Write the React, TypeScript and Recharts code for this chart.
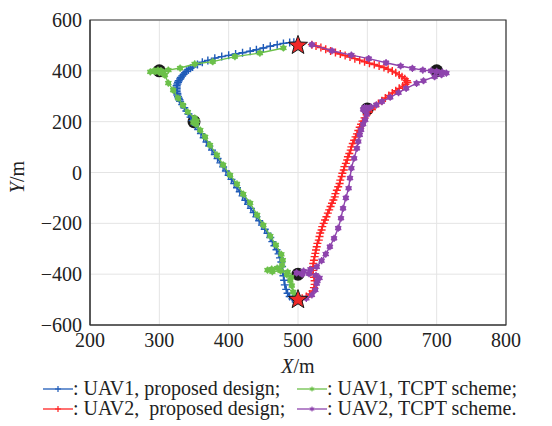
import React from "react";
import { ScatterChart, Scatter, XAxis, YAxis, CartesianGrid, ReferenceArea } from "recharts";

const FONT = '"Liberation Serif", "Times New Roman", serif';

const xTicks = [200, 300, 400, 500, 600, 700, 800];
const yTicks = [-600, -400, -200, 0, 200, 400, 600];

type P = { x: number; y: number };
const pts = (a: number[][]): P[] => a.map(([x, y]) => ({ x, y }));

// UAV1, proposed design (blue)
const uav1Proposed = pts([
  [500, 508], [494, 512], [488, 511], [479, 508], [470, 503], [460, 497], [450, 490], [440, 483],
  [431, 477], [420, 471], [410, 466], [400, 461], [390, 456], [380, 450], [370, 441], [362, 434],
  [355, 425], [348, 415], [345, 410], [342, 404], [339, 398], [337, 392], [335, 386], [333, 380],
  [331, 374], [330, 368], [328, 361], [327, 355], [326, 348], [325, 342], [325, 336], [325, 330],
  [325, 324], [325, 318], [326, 311], [326, 305], [327, 298], [328, 292], [329, 286], [330, 280],
  [333, 267], [336, 255], [339, 242], [342, 230], [345, 218], [348, 204], [352, 186], [356, 169],
  [360, 153], [364, 137], [368, 120], [372, 104], [376, 88], [380, 71], [384, 55], [388, 38],
  [392, 22], [396, 6], [400, -11], [404, -27], [408, -43], [412, -60], [416, -76], [420, -92],
  [424, -109], [428, -125], [432, -141], [436, -158], [440, -174], [444, -190], [448, -207], [452, -223],
  [456, -239], [460, -256], [463, -272], [466, -288], [469, -304], [472, -320], [474, -336], [476, -352],
  [477, -370], [478, -388], [479, -406], [480, -424], [481, -442], [483, -460], [485, -475], [488, -488],
  [492, -497], [496, -502], [500, -503],
]);

// UAV1, TCPT scheme (green)
const uav1Tcpt = pts([
  [479, 490], [445, 470], [409, 456], [377, 436], [351, 427], [330, 411], [313, 403], [302, 400],
  [294, 398], [287, 396], [292, 400], [298, 403], [303, 399], [300, 394], [305, 390], [308, 383],
  [313, 352], [320, 324], [327, 293], [334, 265], [341, 238], [351, 214], [354, 203], [349, 197],
  [353, 190], [359, 167], [366, 140], [373, 108], [383, 69], [392, 30], [402, -10], [412, -45],
  [421, -85], [431, -120], [441, -167], [450, -207], [460, -250], [468, -285], [476, -322], [478, -345],
  [477, -365], [470, -376], [462, -380], [456, -384], [463, -390], [475, -387], [485, -392], [484, -402],
  [490, -412], [489, -425], [491, -445], [493, -470], [497, -490], [500, -500],
]);

// UAV2, proposed design (red)
const uav2Proposed = pts([
  [520, 503], [526, 498], [533, 492], [540, 485], [547, 478], [554, 472], [561, 466], [568, 460],
  [575, 454], [582, 448], [589, 442], [596, 436], [603, 430], [610, 425], [617, 419], [624, 413],
  [630, 406], [636, 399], [641, 392], [646, 384], [650, 377], [654, 369], [657, 361], [658, 354],
  [655, 347], [651, 340], [646, 331], [641, 322], [636, 313], [631, 303], [626, 293], [621, 282],
  [616, 271], [611, 260], [606, 249], [602, 238], [599, 227], [596, 215], [593, 202], [591, 190],
  [589, 178], [587, 165], [585, 152], [583, 140], [581, 127], [579, 114], [577, 101], [576, 88],
  [574, 75], [572, 62], [571, 49], [569, 36], [567, 23], [566, 10], [564, -3], [563, -16],
  [561, -30], [560, -43], [558, -56], [556, -70], [554, -83], [553, -96], [551, -108], [549, -121],
  [547, -134], [545, -147], [543, -160], [541, -174], [539, -187], [537, -200], [535, -213], [534, -226],
  [532, -238], [531, -252], [530, -266], [528, -279], [527, -292], [526, -305], [525, -318], [524, -331],
  [523, -345], [522, -358], [522, -371], [522, -385], [522, -398], [523, -412], [524, -426], [524, -440],
  [523, -453], [521, -466], [517, -478], [512, -488], [506, -495], [500, -500],
]);

// UAV2, TCPT scheme (purple)
const uav2Tcpt = pts([
  [520, 503], [549, 479], [577, 462], [602, 448], [627, 432], [648, 419], [665, 410], [680, 403],
  [692, 400], [700, 398], [708, 395], [714, 391], [707, 385], [697, 377], [681, 361], [671, 351],
  [656, 331], [645, 314], [633, 296], [621, 279], [613, 266], [605, 258], [599, 253], [594, 248],
  [596, 256], [601, 250], [597, 242], [599, 228], [597, 207], [594, 190], [591, 168], [589, 148],
  [587, 122], [585, 95], [581, 56], [577, 17], [575, -22], [573, -62], [569, -100], [565, -141],
  [562, -180], [558, -219], [552, -259], [546, -292], [540, -321], [534, -347], [527, -371], [518, -381],
  [508, -388], [498, -395], [506, -400], [516, -398], [526, -405], [531, -415], [528, -426], [527, -437],
  [525, -462], [520, -482], [512, -495],
]);

const waypoints = pts([[300, 400], [350, 200], [500, -400], [600, 250], [700, 400]]);
const stations = pts([[500, 500], [500, -500]]);

const BLUE = "#1f5bb8";
const GREEN = "#6cc04a";
const RED = "#ff2424";
const PURPLE = "#8e44ad";

const plusShape = (color: string) => (p: any) => {
  const { cx, cy } = p;
  if (cx == null || cy == null) return <g />;
  return (
    <path
      d={`M${cx - 4},${cy}H${cx + 4}M${cx},${cy - 4}V${cy + 4}`}
      stroke={color}
      strokeWidth={1.4}
      fill="none"
    />
  );
};

const asterShape = (color: string) => (p: any) => {
  const { cx, cy } = p;
  if (cx == null || cy == null) return <g />;
  const r = 3.6;
  const d = 0.866 * r;
  return (
    <g>
      <circle cx={cx} cy={cy} r={2.8} fill={color} />
      <path
        d={`M${cx},${cy - r}V${cy + r}M${cx - d},${cy - r / 2}L${cx + d},${cy + r / 2}M${cx - d},${cy + r / 2}L${cx + d},${cy - r / 2}`}
        stroke={color}
        strokeWidth={1.3}
      />
    </g>
  );
};

const dotShape = (p: any) => {
  const { cx, cy } = p;
  if (cx == null || cy == null) return <g />;
  return <circle cx={cx} cy={cy} r={6.5} fill="#1a1a1a" />;
};

const starShape = (p: any) => {
  const { cx, cy } = p;
  if (cx == null || cy == null) return <g />;
  const R = 10;
  const r = 4.2;
  let d = "";
  for (let i = 0; i < 10; i++) {
    const rad = i % 2 === 0 ? R : r;
    const a = -Math.PI / 2 + (i * Math.PI) / 5;
    d += `${i === 0 ? "M" : "L"}${cx + rad * Math.cos(a)},${cy + rad * Math.sin(a)}`;
  }
  return <path d={d + "Z"} fill="#f02828" stroke="#1a1a1a" strokeWidth={1} />;
};

const fmt = (v: number) => (v < 0 ? `\u2212${-v}` : `${v}`);

const LegendIcon = ({ color, kind }: { color: string; kind: "plus" | "aster" }) => (
  <svg width={30} height={12} style={{ verticalAlign: "middle", marginTop: -3 }}>
    <line x1={0} y1={6} x2={30} y2={6} stroke={color} strokeWidth={1.3} />
    {kind === "plus" ? (
      <path d="M15,3V9M12,6H18" stroke={color} strokeWidth={1.2} />
    ) : (
      <g>
        <circle cx={15} cy={6} r={1.6} fill={color} />
        <path d="M15,3.5V8.5M12.8,4.7L17.2,7.3M12.8,7.3L17.2,4.7" stroke={color} strokeWidth={1} />
      </g>
    )}
  </svg>
);

const legendItems = [
  { left: 43, top: 377, color: BLUE, kind: "plus" as const, text: ": UAV1, proposed design;" },
  { left: 297, top: 377, color: GREEN, kind: "aster" as const, text: ": UAV1, TCPT scheme;" },
  { left: 43, top: 397, color: RED, kind: "plus" as const, text: ": UAV2,  proposed design;" },
  { left: 297, top: 397, color: PURPLE, kind: "aster" as const, text: ": UAV2, TCPT scheme." },
];

export default function App() {
  return (
    <div style={{ position: "absolute", left: 0, top: 0, width: 552, height: 426, background: "#fff", fontFamily: FONT }}>
      <ScatterChart width={552} height={426} margin={{ top: 20, right: 46, bottom: 61, left: 0 }}>
        <CartesianGrid stroke="#e4e4e4" strokeWidth={1} />
        <XAxis
          type="number"
          dataKey="x"
          domain={[200, 800]}
          ticks={xTicks}
          allowDataOverflow
          height={40}
          axisLine={{ stroke: "#333" }}
          tickLine={false}
          tick={{ fill: "#222", fontSize: 20, fontFamily: FONT }}
          label={{
            content: (props: any) => {
              const vb = props.viewBox || {};
              return (
                <text x={vb.x + vb.width / 2} y={vb.y + 48} textAnchor="middle" fill="#222" fontSize={20} fontFamily={FONT}>
                  <tspan fontStyle="italic">X</tspan>/m
                </text>
              );
            },
          }}
        />
        <YAxis
          type="number"
          dataKey="y"
          domain={[-600, 600]}
          ticks={yTicks}
          allowDataOverflow
          width={90}
          tickFormatter={fmt}
          axisLine={{ stroke: "#333" }}
          tickLine={false}
          tick={{ fill: "#222", fontSize: 20, fontFamily: FONT }}
          label={{
            content: () => (
              <text transform="translate(17,177) rotate(-90)" textAnchor="middle" fill="#222" fontSize={20} fontFamily={FONT} dy="0.35em">
                <tspan fontStyle="italic">Y</tspan>/m
              </text>
            ),
          }}
        />
        <ReferenceArea x1={200} x2={800} y1={-600} y2={600} fill="none" stroke="#333" strokeWidth={1.2} />
        <Scatter data={waypoints} shape={dotShape} isAnimationActive={false} />
        <Scatter data={uav1Proposed} fill={BLUE} line={{ stroke: BLUE, strokeWidth: 1.4 }} shape={plusShape(BLUE)} isAnimationActive={false} />
        <Scatter data={uav1Tcpt} fill={GREEN} line={{ stroke: GREEN, strokeWidth: 1.4 }} shape={asterShape(GREEN)} isAnimationActive={false} />
        <Scatter data={uav2Proposed} fill={RED} line={{ stroke: RED, strokeWidth: 1.4 }} shape={plusShape(RED)} isAnimationActive={false} />
        <Scatter data={uav2Tcpt} fill={PURPLE} line={{ stroke: PURPLE, strokeWidth: 1.4 }} shape={asterShape(PURPLE)} isAnimationActive={false} />
        <Scatter data={stations} shape={starShape} isAnimationActive={false} />
      </ScatterChart>
      {legendItems.map((it) => (
        <div
          key={it.text}
          style={{ position: "absolute", left: it.left, top: it.top, fontSize: 20, lineHeight: "22px", color: "#222", whiteSpace: "pre" }}
        >
          <LegendIcon color={it.color} kind={it.kind} />
          {it.text}
        </div>
      ))}
    </div>
  );
}
